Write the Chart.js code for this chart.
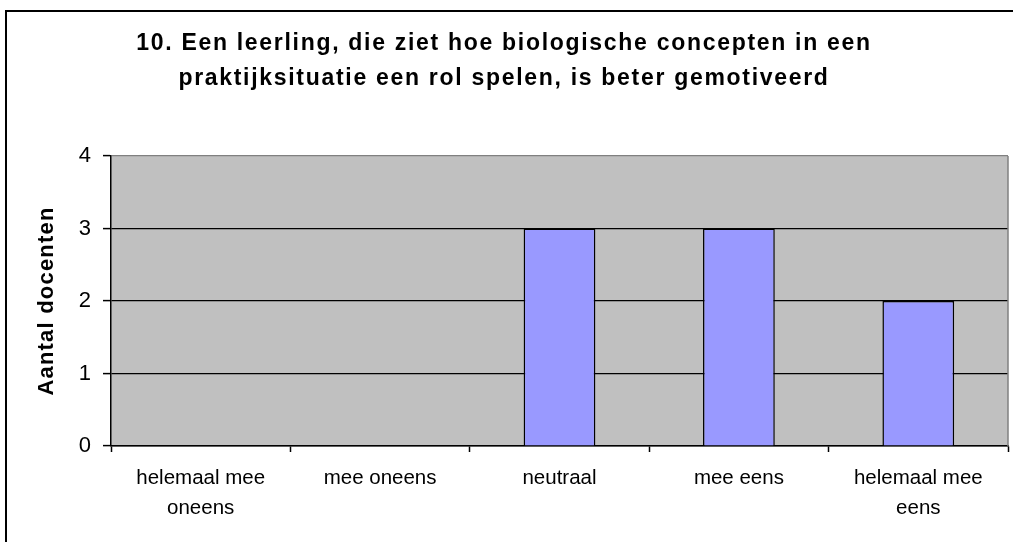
<!DOCTYPE html>
<html>
<head>
<meta charset="utf-8">
<script src="https://cdn.jsdelivr.net/npm/chart.js@4/dist/chart.umd.min.js"></script>
<style>
  html, body { margin: 0; padding: 0; background: #ffffff; }
  canvas { display: block; }
</style>
</head>
<body>
<canvas id="c" width="1013" height="542"></canvas>
<script>
// ---- data ----
const categories = [["helemaal mee", "oneens"], "mee oneens", "neutraal", "mee eens", ["helemaal mee", "eens"]];
const counts = [0, 0, 3, 3, 2];
const titleLines = ["10. Een leerling, die ziet hoe biologische concepten in een",
                    "praktijksituatie een rol spelen, is beter gemotiveerd"];
const yAxisTitle = "Aantal docenten";
const yMin = 0, yMax = 4, yStep = 1;

const FONT = "'Liberation Sans', Arial, sans-serif";

const decor = {
  id: 'decor',
  beforeDraw(chart) {
    const ctx = chart.ctx, a = chart.chartArea;
    ctx.save();
    ctx.fillStyle = '#ffffff';
    ctx.fillRect(0, 0, chart.width, chart.height);
    ctx.fillStyle = '#C0C0C0';
    ctx.fillRect(a.left, a.top, a.right - a.left, a.bottom - a.top);
    ctx.strokeStyle = '#000000';
    ctx.lineWidth = 2;
    ctx.strokeRect(6, 11, 1200, 1000);
    ctx.restore();
    const tb = chart.titleBlock;
    if (tb && !tb._wrapped) {
      const orig = tb.draw;
      tb.draw = function () {
        const c = this.ctx; const prev = c.letterSpacing;
        c.letterSpacing = '1.7px';
        orig.apply(this, arguments);
        c.letterSpacing = prev || '0px';
      };
      tb._wrapped = true;
    }
    const ys = chart.scales.y;
    if (ys && !ys._wrapped) {
      const origT = ys.drawTitle;
      ys.drawTitle = function () {
        const c = this.ctx; const prev = c.letterSpacing;
        c.letterSpacing = '1.2px';
        origT.apply(this, arguments);
        c.letterSpacing = prev || '0px';
      };
      ys._wrapped = true;
    }
  },
  afterDraw(chart) {
    const ctx = chart.ctx, a = chart.chartArea;
    ctx.save();
    ctx.strokeStyle = '#808080';
    ctx.lineWidth = 1.5;
    ctx.beginPath();
    ctx.moveTo(a.right, a.top);
    ctx.lineTo(a.right, a.bottom);
    ctx.stroke();
    ctx.restore();
  }
};

new Chart(document.getElementById('c'), {
  type: 'bar',
  data: {
    labels: categories,
    datasets: [{
      data: counts,
      backgroundColor: '#9999FF',
      borderColor: '#000000',
      borderWidth: 1.5,
      barPercentage: 0.4,
      categoryPercentage: 1.0
    }]
  },
  plugins: [decor],
  options: {
    responsive: false,
    animation: false,
    devicePixelRatio: 1,
    layout: { padding: { left: 0, right: 5, top: 0, bottom: 0 } },
    plugins: {
      legend: { display: false },
      tooltip: { enabled: false },
      title: {
        display: true,
        text: titleLines,
        color: '#000000',
        font: { family: FONT, size: 23, weight: 'bold', lineHeight: 35 / 23 },
        padding: { top: 26.5, bottom: 59.5 }
      }
    },
    scales: {
      x: {
        afterFit(scale) { scale.height = 96; },
        grid: {
          display: true,
          drawOnChartArea: false,
          drawTicks: true,
          tickLength: 6,
          tickColor: '#000000',
          tickWidth: 1.5,
          offset: true
        },
        border: { display: true, color: '#000000', width: 1.5 },
        ticks: {
          color: '#000000',
          padding: 11,
          maxRotation: 0,
          autoSkip: false,
          font: { family: FONT, size: 20.5, lineHeight: 30 / 20.5 }
        }
      },
      y: {
        min: yMin,
        max: yMax,
        afterFit(scale) { scale.width = 111; },
        grid: {
          color: (c) => (c.tick && c.tick.value === yMax) ? '#808080' : '#000000',
          lineWidth: 1.2,
          tickLength: 8,
          tickColor: '#000000',
          tickWidth: 1.5
        },
        border: { display: true, color: '#000000', width: 1.5 },
        ticks: {
          stepSize: yStep,
          color: '#000000',
          padding: 12,
          font: { family: FONT, size: 22 }
        },
        title: {
          display: true,
          text: yAxisTitle,
          color: '#000000',
          font: { family: FONT, size: 22, weight: 'bold', lineHeight: 1.2 },
          padding: { top: 34, bottom: 0 }
        }
      }
    }
  }
});
</script>
</body>
</html>
